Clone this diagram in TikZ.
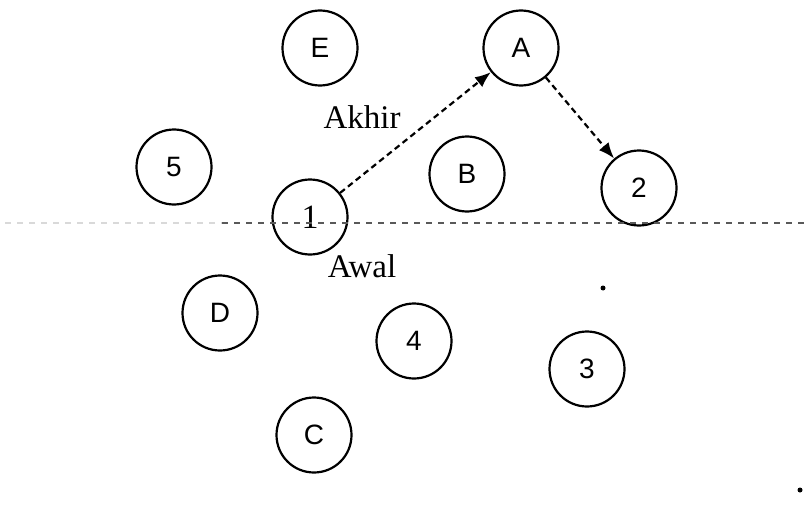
\documentclass[tikz,border=0pt]{standalone}
\usepackage{fontspec}
\setmainfont{Liberation Serif}
\newfontfamily\lblfont{Liberation Sans}
\usepackage{tikz}
\usetikzlibrary{arrows.meta,positioning}
\tikzset{
  vtx/.style   = {draw, line width=1.1pt, circle, minimum size=37.5pt,
                  inner sep=0pt, font=\lblfont\fontsize{14}{14}\selectfont},
  walk/.style  = {densely dashed, line width=1.1pt, -{Latex[length=2.8mm,width=2.2mm]}},
  cut/.style   = {dashed, line width=0.6pt, black!65},
  lbl/.style   = {font=\fontsize{16.5}{16.5}\selectfont},
  speck/.style = {fill, circle, inner sep=0pt, minimum size=2.5pt},
}
\begin{document}
\begin{tikzpicture}[x=0.5pt, y=-0.5pt]
\useasboundingbox (0,0) rectangle (807,524);
% ---------------- upper row ----------------
\node[vtx] (E) at (320,48) {E};
\node[vtx] (A) at (521,48) {A};
\node[vtx] (n5) at (174,167) {5};
\node[vtx] (B) at (467,174) {B};
\node[vtx] (n2) at (639,188) {2};
\node[vtx, font=\fontsize{17}{17}\selectfont] (n1) at (310,217) {1};
\node[lbl] (akhir) at (362,117) {Akhir};
\node[lbl] (awal) at (362,266) {Awal};
% ---------------- cutting line ----------------
\coordinate (cl0) at (5,223);
\coordinate (cl1) at (222,223);
\coordinate (cl2) at (805,223);
\draw[cut, black!15] (cl0) -- (cl1);
\draw[cut] (cl1) -- (cl2);
% ---------------- lower row ----------------
\node[vtx] (D) at (220,313) {D};
\node[vtx] (n4) at (414,341) {4};
\node[vtx] (n3) at (587,369) {3};
\node[vtx] (C) at (314,435) {C};
% specks
\node[speck] (s1) at (603,288) {};
\node[speck] (s2) at (800,490) {};
% ---------------- walk ----------------
\draw[walk] (n1) -- (A);
\draw[walk] (A) -- (n2);
\end{tikzpicture}
\end{document}
